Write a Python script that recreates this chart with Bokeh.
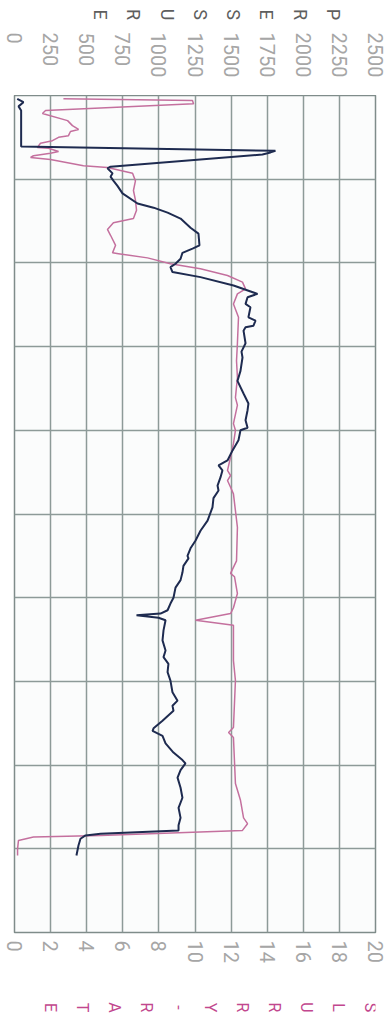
import math
from bokeh.plotting import figure
from bokeh.models import Range1d, FixedTicker, Label
from bokeh.layouts import column
from bokeh.embed import file_html
from bokeh.resources import INLINE

# ---- data (time in arbitrary units 0..100, increasing downward) ----
time_p = [0.4, 0.8, 1.3, 1.8, 6.1, 6.6, 6.8, 7.05, 8.5, 8.7, 9.3, 9.7, 10.2, 10.8, 11.7,
          12.9, 13.4, 14.0, 14.7, 15.8, 16.5, 17.9, 18.3, 18.8, 19.5, 20.1, 20.5, 21.1,
          21.7, 22.7, 23.7, 24.1, 24.9, 25.3, 26.5, 26.9, 27.5, 27.7, 28.1, 29.6, 30.6,
          31.3, 32.9, 34.1, 35.6, 36.8, 37.6, 38.8, 39.7, 40.0, 41.2, 42.4, 43.6, 44.2,
          44.8, 45.6, 46.6, 47.2, 48.1, 49.2, 50.8, 52.0, 53.2, 54.1, 55.0, 55.3, 56.2,
          57.0, 57.9, 58.8, 60.0, 60.7, 61.5, 61.9, 62.1, 62.4, 62.7, 63.9, 65.1, 66.3,
          67.1, 67.9, 68.9, 69.9, 71.3, 72.3, 72.9, 73.5, 74.7, 75.6, 75.9, 76.5, 77.4,
          78.5, 79.4, 79.8, 80.6, 81.5, 82.7, 83.9, 85.1, 86.3, 87.2, 87.8, 88.2, 88.4,
          88.8, 89.6, 90.8]
pressure = [19, 62, 28, 46, 46, 1807, 1773, 1717, 665, 644, 679, 665, 686, 713, 748,
            852, 963, 1060, 1150, 1219, 1274, 1281, 1233, 1163, 1150, 1115, 1080, 1094,
            1288, 1517, 1683, 1614, 1600, 1634, 1620, 1669, 1655, 1600, 1586, 1600, 1572,
            1579, 1565, 1544, 1586, 1620, 1614, 1600, 1614, 1565, 1551, 1510, 1475, 1413,
            1440, 1427, 1406, 1413, 1378, 1371, 1337, 1288, 1253, 1219, 1198, 1205, 1170,
            1163, 1150, 1115, 1101, 1080, 1060, 1011, 845, 997, 1046, 1032, 1025, 1046,
            1032, 1066, 1060, 1080, 1094, 1129, 1094, 1101, 1025, 963, 956, 1025, 1046,
            1101, 1163, 1184, 1150, 1129, 1150, 1163, 1136, 1150, 1136, 1136, 596, 492,
            457, 443, 429]

time_r = [0.4, 0.6, 1.0, 1.8, 2.15, 3.0, 3.6, 4.06, 4.3, 4.8, 5.0, 5.4, 5.7, 6.2, 6.3,
          6.7, 6.9, 7.2, 7.4, 7.65, 8.4, 8.6, 9.3, 10.2, 11.35, 12.5, 13.7, 14.7, 15.2,
          16.0, 16.7, 17.9, 18.8, 18.9, 19.4, 20.1, 20.7, 21.5, 22.3, 23.1, 23.7, 24.9,
          26.5, 29.6, 31.7, 33.7, 36.1, 37.0, 39.2, 40.0, 41.6, 43.2, 44.8, 45.4, 46.0,
          46.8, 47.6, 51.6, 55.6, 57.1, 57.5, 59.5, 61.2, 61.9, 62.7, 63.3, 67.5, 69.9,
          75.5, 76.1, 76.7, 82.2, 84.2, 86.3, 87.0, 87.8, 88.4, 88.6, 89.0, 90.0, 90.8]
rate = [2.71, 9.86, 9.92, 1.72, 1.55, 2.94, 3.21, 3.55, 3.10, 2.99, 2.44, 2.10, 1.44, 1.27,
        1.88, 2.44, 1.99, 1.05, 0.89, 1.99, 3.82, 5.15, 6.54, 6.70, 6.59, 6.70, 6.76, 6.59,
        5.48, 5.15, 5.32, 5.60, 5.43, 5.76, 7.37, 8.64, 10.3, 11.8, 12.63, 12.8, 12.35,
        12.13, 12.41, 12.35, 12.30, 12.35, 12.24, 12.35, 12.13, 12.24, 12.13, 11.97, 11.80,
        11.97, 11.80, 11.97, 12.13, 12.35, 12.30, 11.97, 12.19, 12.35, 12.13, 11.97, 10.03,
        12.13, 12.13, 12.24, 12.13, 11.86, 12.13, 12.24, 12.52, 12.69, 12.91, 12.63, 4.76,
        1.05, 0.22, 0.17, 0.17]

pressure_ticks = list(range(0, 2501, 250))
rate_ticks = list(range(0, 21, 2))
time_ticks = list(range(0, 101, 10))
pressure_title = list("PRESSURE")
rate_title = list("SLURRY-RATE")

W = 389
SIDE = 14
GRID = "#8d9a98"
TICK_COLOR = "#a6a6a6"
TICK_FONT = "Roboto"
TICK_SIZE = "20px"
ROT = -math.pi / 2


def style_axis(ax, ticks, standoff):
    ax.ticker = FixedTicker(ticks=ticks)
    ax.major_label_orientation = ROT
    ax.major_label_standoff = standoff
    ax.major_tick_out = 0
    ax.major_tick_in = 0
    ax.minor_tick_out = 0
    ax.minor_tick_in = 0
    ax.axis_line_color = None
    ax.major_label_text_color = TICK_COLOR
    ax.major_label_text_font = TICK_FONT
    ax.major_label_text_font_size = TICK_SIZE


# ---- top strip: pressure scale ----
top = figure(width=W, height=95, x_range=Range1d(0, 2500), y_range=Range1d(0, 1),
             output_backend="svg", toolbar_location=None, y_axis_location=None,
             min_border_left=SIDE, min_border_right=SIDE, min_border_top=0,
             min_border_bottom=65)
top.grid.visible = False
top.outline_line_color = None
top.background_fill_color = "white"
top.border_fill_color = "white"
style_axis(top.xaxis[0], pressure_ticks, 2)

for i, ch in enumerate(pressure_title):
    top.add_layout(Label(x=319 - 33.3 * i, y=16, x_units="screen", y_units="screen",
                         text=ch, angle=ROT, text_align="center", text_baseline="middle",
                         text_font="Roboto", text_font_size="18px", text_color="#5e5e5e"))

# ---- main chart ----
p = figure(width=W, height=900, x_range=Range1d(0, 20), y_range=Range1d(100, 0),
           output_backend="svg", toolbar_location=None, y_axis_location=None,
           min_border_left=SIDE, min_border_right=SIDE, min_border_top=0,
           min_border_bottom=63)
p.extra_x_ranges = {"pressure": Range1d(0, 2500)}
p.background_fill_color = "#fbfcfc"
p.border_fill_color = "white"
p.outline_line_color = "#7f8c8a"
p.outline_line_width = 1.5

p.xgrid.ticker = FixedTicker(ticks=rate_ticks)
p.ygrid.ticker = FixedTicker(ticks=time_ticks)
p.grid.grid_line_color = GRID
p.grid.grid_line_width = 1.5

style_axis(p.xaxis[0], rate_ticks, 8)

p.line(x=rate, y=time_r, line_color="#c4709e", line_width=1.5)
p.line(x=pressure, y=time_p, x_range_name="pressure", line_color="#1e2b50", line_width=2)

# ---- bottom strip: slurry-rate title ----
bot = figure(width=W, height=22, x_range=Range1d(0, 20), y_range=Range1d(0, 1),
             output_backend="svg", toolbar_location=None, x_axis_location=None,
             y_axis_location=None, min_border_left=SIDE, min_border_right=SIDE,
             min_border_top=0, min_border_bottom=0)
bot.grid.visible = False
bot.outline_line_color = None
bot.background_fill_color = "white"
bot.border_fill_color = "white"
for i, ch in enumerate(rate_title):
    bot.add_layout(Label(x=356 - 32 * i, y=10, x_units="screen", y_units="screen",
                         text=ch, angle=ROT, text_align="center", text_baseline="middle",
                         text_font="Roboto", text_font_size="16px", text_color="#c2478e"))

layout = column(top, p, bot, spacing=0)
open("out.html", "w").write(file_html(layout, INLINE))
